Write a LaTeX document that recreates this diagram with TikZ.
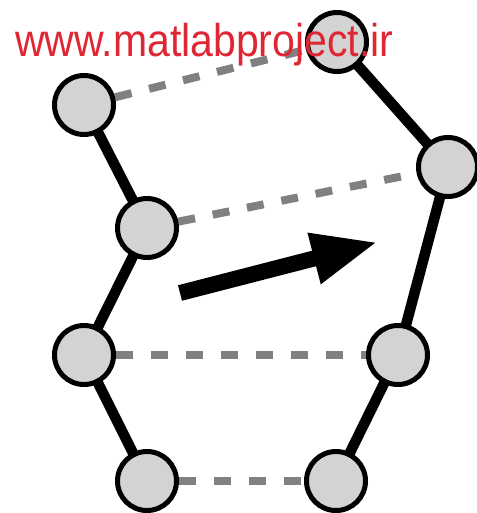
\documentclass[tikz,border=0pt]{standalone}
\usepackage{fontspec}
\setmainfont{Liberation Sans}
\usetikzlibrary{arrows.meta,backgrounds}
\definecolor{ballfill}{HTML}{D3D3D3}
\definecolor{linkgray}{HTML}{808080}
\definecolor{markred}{HTML}{DF2633}
\begin{document}
\begin{tikzpicture}[x=1pt,y=-1pt,
  ball/.style={circle,draw=black,fill=ballfill,line width=5pt,minimum size=59pt,inner sep=0pt},
  bond/.style={draw=black,line width=10.5pt},
  link/.style={draw=linkgray,line width=8pt,dash pattern=on 17pt off 18pt},
  shiftarrow/.style={draw=black,line width=16pt,-{Triangle[length=66pt,width=48pt]}}]
\useasboundingbox (0,0) rectangle (476,513);
% left chain
\node[ball] (L1) at (84,105) {};
\node[ball] (L2) at (147,228) {};
\node[ball] (L3) at (84,355) {};
\node[ball] (L4) at (147,481) {};
% right chain
\node[ball] (R1) at (337,42) {};
\node[ball] (R2) at (448,167) {};
\node[ball] (R3) at (398,355) {};
\node[ball] (R4) at (336,481) {};
\begin{scope}[on background layer]
  \draw[bond] (L1.center) -- (L2.center) -- (L3.center) -- (L4.center);
  \draw[bond] (R1.center) -- (R2.center) -- (R3.center) -- (R4.center);
  \draw[link] (L1) -- (R1);
  \draw[link] (L2) -- (R2);
  \draw[link] (L3) -- (R3);
  \draw[link] (L4) -- (R4);
\end{scope}
% displacement arrow
\coordinate (tail) at (180,293);
\coordinate (tip) at (378,242);
\draw[shiftarrow] (tail) -- (tip);
% watermark
\node[anchor=base west,inner sep=0pt,text=markred] (mark) at (15,57)
  {\scalebox{1}[1.12]{\fontsize{41}{41}\selectfont www.matlabproject.ir}};
\end{tikzpicture}
\end{document}
